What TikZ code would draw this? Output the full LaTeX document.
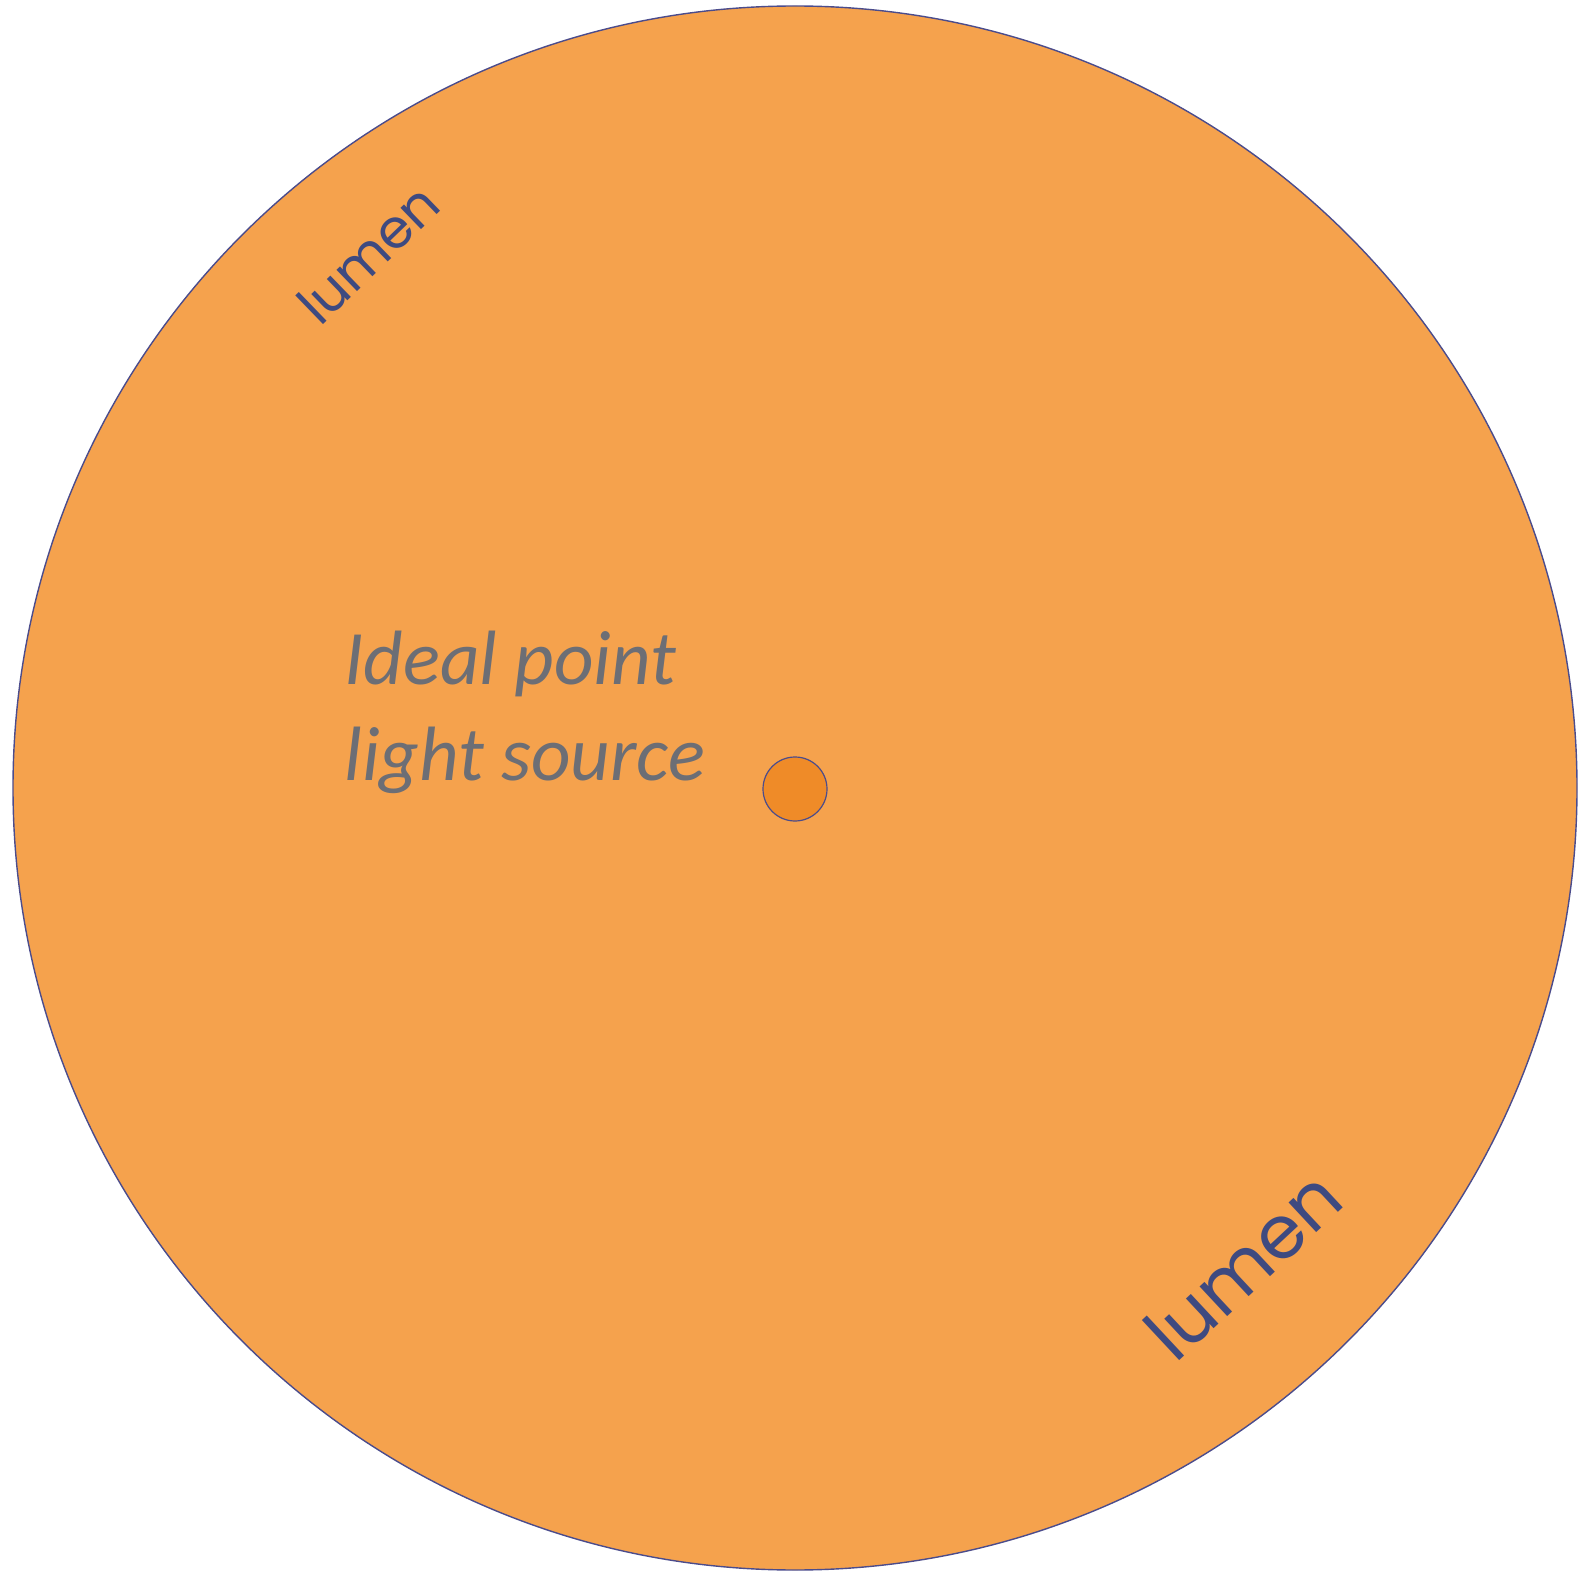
\documentclass[tikz,border=0pt]{standalone}
\usepackage{fontspec}
\setmainfont{Carlito}
\newfontfamily\lumenfont{Poppins}
\usepackage{xcolor}
\usetikzlibrary{positioning}
\definecolor{lumenfill}{HTML}{F5A24D}
\definecolor{srcfill}{HTML}{EF8B28}
\definecolor{rim}{HTML}{4B4C8C}
\definecolor{lumentext}{HTML}{3E4A80}
\definecolor{labeltext}{HTML}{6C6E75}
\begin{document}
\begin{tikzpicture}[x=0.5pt,y=-0.5pt,lum/.style={font=\lumenfont,text=lumentext,inner sep=0pt},src/.style={circle,draw=rim,fill=srcfill,line width=0.6pt,minimum size=32pt,inner sep=0pt}]
\useasboundingbox (0,0) rectangle (1580,1572);
\node[circle,draw=rim,fill=lumenfill,line width=0.7pt,minimum size=782pt,inner sep=0pt] (sphere) at (795,788) {};
\node[src] (point) at (795,789) {};
\node[font=\itshape\fontsize{38.5}{48}\selectfont,text=labeltext,align=left,anchor=south west,inner sep=0pt] (label) at (344,794) {Ideal point\\light source};
\node[lum,font=\lumenfont\fontsize{27}{30}\selectfont,rotate=44] (lumenA) at (368,254) {lumen};
\node[lum,font=\lumenfont\fontsize{37}{40}\selectfont,rotate=43] (lumenB) at (1243,1265) {lumen};
\end{tikzpicture}
\end{document}
